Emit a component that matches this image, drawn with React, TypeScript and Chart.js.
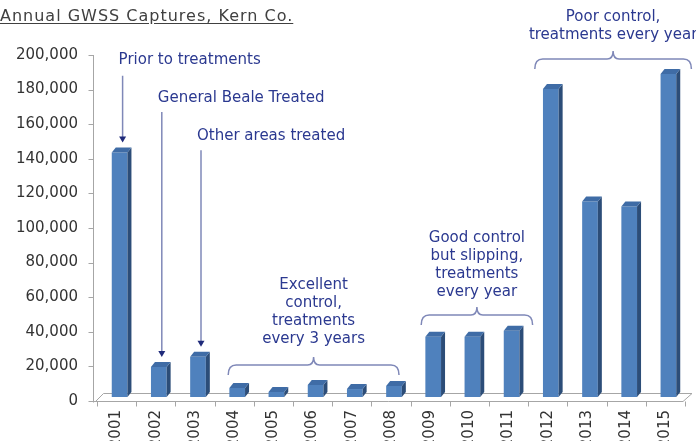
import React, { useEffect, useRef } from "react";
import { Chart, registerables } from "chart.js";

Chart.register(...registerables);

// ---- data ----
const categories = ["2001", "2002", "2003", "2004", "2005", "2006", "2007", "2008", "2009", "2010", "2011", "2012", "2013", "2014", "2015"];
const captures = [141400, 17400, 23200, 5200, 2900, 7000, 4600, 6400, 34800, 34800, 38300, 178000, 113000, 110100, 186700];
const yTickValues = [0, 20000, 40000, 60000, 80000, 100000, 120000, 140000, 160000, 180000, 200000];
const titleText = "Annual GWSS Captures, Kern Co.";

const arrowLabels = ["Prior to treatments", "General Beale Treated", "Other areas treated"];
const arrowIndices = [0, 1, 2];
const arrowTextValues = [197000, 175000, 153000];
const arrowStartValues = [188000, 167000, 145000];

const groupLines = [
  ["Excellent", "control,", "treatments", "every 3 years"],
  ["Good control", "but slipping,", "treatments", "every year"],
  ["Poor control,", "treatments every year"],
];
const groupFrom = [3, 8, 11];
const groupTo = [7, 10, 14];
const groupLeftPad = [-6, -9, -13];
const groupRightPad = [8, 24, 26];
const groupBraceValues = [20800, 49700, 197700];
const groupTextValues = [67000, 94200, 222000];

// ---- styles ----
const FONT = '"DejaVu Sans", "Liberation Sans", Arial, sans-serif';
const NOTE_COLOR = "#2B3990";
const NOTE_LINE = "#7F88B8";
const AXIS_COLOR = "#A6A6A6";
const FRONT = "#4F81BD";
const SIDE = "#2C4D78";
const TOP = "#3F6CA6";
const SHIFT_X = 3;
const SHIFT_Y = -4;
const DEPTH_X = 4;
const DEPTH_Y = -5;

const axesPlugin = {
  id: "axes3d",
  beforeDatasetsDraw(chart: any) {
    const { ctx, chartArea, scales } = chart;
    const x = scales.x;
    const y = scales.y;
    const left = chartArea.left;
    const right = chartArea.right;
    const bottom = chartArea.bottom;
    ctx.save();
    ctx.strokeStyle = AXIS_COLOR;
    ctx.lineWidth = 1;
    const ax = Math.round(left - 4) + 0.5;
    const by = Math.round(bottom) + 0.5;
    // vertical axis
    ctx.beginPath();
    ctx.moveTo(ax, chartArea.top);
    ctx.lineTo(ax, by + 1);
    ctx.stroke();
    // y tick marks
    yTickValues.forEach((v) => {
      const py = Math.round(y.getPixelForValue(v)) + 0.5;
      ctx.beginPath();
      ctx.moveTo(ax - 5, py);
      ctx.lineTo(ax, py);
      ctx.stroke();
    });
    // floor
    const fr = right - 2;
    ctx.beginPath();
    ctx.moveTo(ax, by);
    ctx.lineTo(fr, by);
    ctx.lineTo(fr + 9, by - 8);
    ctx.lineTo(ax + 10, by - 8);
    ctx.lineTo(ax + 2, by);
    ctx.stroke();
    // x tick marks
    const n = categories.length;
    const cw = (right - left) / n;
    for (let k = 0; k <= n; k++) {
      const px = Math.round(left + k * cw) + 0.5;
      ctx.beginPath();
      ctx.moveTo(px, by);
      ctx.lineTo(px, by + 5);
      ctx.stroke();
    }
    ctx.restore();
    // shift bars into 3D depth
    ctx.save();
    ctx.translate(SHIFT_X, SHIFT_Y);
  },
  afterDatasetsDraw(chart: any) {
    const { ctx } = chart;
    const meta = chart.getDatasetMeta(0);
    meta.data.forEach((el: any) => {
      const p = el.getProps(["x", "y", "width", "base"], true);
      const l = p.x - p.width / 2;
      const r = p.x + p.width / 2;
      // side face
      ctx.fillStyle = SIDE;
      ctx.beginPath();
      ctx.moveTo(r, p.y);
      ctx.lineTo(r + DEPTH_X, p.y + DEPTH_Y);
      ctx.lineTo(r + DEPTH_X, p.base + DEPTH_Y);
      ctx.lineTo(r, p.base);
      ctx.closePath();
      ctx.fill();
      // top face
      ctx.fillStyle = TOP;
      ctx.beginPath();
      ctx.moveTo(l, p.y);
      ctx.lineTo(l + DEPTH_X, p.y + DEPTH_Y);
      ctx.lineTo(r + DEPTH_X, p.y + DEPTH_Y);
      ctx.lineTo(r, p.y);
      ctx.closePath();
      ctx.fill();
    });
    ctx.restore();
  },
};

const notesPlugin = {
  id: "notes",
  afterDraw(chart: any) {
    const { ctx, scales } = chart;
    const x = scales.x;
    const y = scales.y;
    ctx.save();
    ctx.font = `15px ${FONT}`;
    ctx.textBaseline = "middle";
    // arrow notes
    arrowLabels.forEach((label, i) => {
      const idx = arrowIndices[i];
      const ax = x.getPixelForValue(idx) + 6;
      const ty = y.getPixelForValue(arrowTextValues[i]);
      const sy = y.getPixelForValue(arrowStartValues[i]);
      const tip = y.getPixelForValue(captures[idx]) - 14;
      ctx.fillStyle = NOTE_COLOR;
      ctx.textAlign = "left";
      ctx.fillText(label, ax - 4, ty);
      ctx.strokeStyle = NOTE_LINE;
      ctx.lineWidth = 1.5;
      ctx.beginPath();
      ctx.moveTo(ax, sy);
      ctx.lineTo(ax, tip - 4);
      ctx.stroke();
      ctx.fillStyle = "#1F2A7A";
      ctx.beginPath();
      ctx.moveTo(ax - 3.5, tip - 6);
      ctx.lineTo(ax + 3.5, tip - 6);
      ctx.lineTo(ax, tip);
      ctx.closePath();
      ctx.fill();
    });
    // brace groups
    groupLines.forEach((lines, g) => {
      const left = x.getPixelForValue(groupFrom[g]) + groupLeftPad[g];
      const right = x.getPixelForValue(groupTo[g]) + groupRightPad[g];
      const cx = (left + right) / 2;
      const yb = y.getPixelForValue(groupBraceValues[g]);
      ctx.strokeStyle = NOTE_LINE;
      ctx.lineWidth = 1.5;
      ctx.beginPath();
      ctx.moveTo(left, yb + 10);
      ctx.quadraticCurveTo(left, yb, left + 8, yb);
      ctx.lineTo(cx - 6, yb);
      ctx.quadraticCurveTo(cx, yb, cx, yb - 8);
      ctx.quadraticCurveTo(cx, yb, cx + 6, yb);
      ctx.lineTo(right - 8, yb);
      ctx.quadraticCurveTo(right, yb, right, yb + 10);
      ctx.stroke();
      const ty = y.getPixelForValue(groupTextValues[g]);
      ctx.fillStyle = NOTE_COLOR;
      ctx.textAlign = "center";
      lines.forEach((line, li) => {
        ctx.fillText(line, cx, ty + li * 18);
      });
    });
    ctx.restore();
  },
};

export default function App() {
  const canvasRef = useRef<HTMLCanvasElement | null>(null);

  useEffect(() => {
    const canvas = canvasRef.current;
    if (!canvas) return;
    const chart = new Chart(canvas, {
      type: "bar",
      data: {
        labels: categories,
        datasets: [
          {
            data: captures,
            backgroundColor: FRONT,
            borderWidth: 0,
            categoryPercentage: 1,
            barPercentage: 0.4,
          },
        ],
      },
      options: {
        animation: false,
        responsive: false,
        maintainAspectRatio: false,
        devicePixelRatio: 1,
        layout: { padding: { top: 55, right: 11, left: 0, bottom: 0 } },
        plugins: {
          legend: { display: false },
          tooltip: { enabled: false },
          title: { display: false },
        },
        scales: {
          x: {
            grid: { display: false, drawTicks: false },
            border: { display: false },
            ticks: {
              minRotation: 90,
              maxRotation: 90,
              autoSkip: false,
              padding: 9,
              color: "#333333",
              font: { family: FONT, size: 15 },
            },
            afterFit: (s: any) => {
              s.height = 40;
            },
          },
          y: {
            min: 0,
            max: 200000,
            afterBuildTicks: (s: any) => {
              s.ticks = yTickValues.map((v) => ({ value: v }));
            },
            grid: { display: false, drawTicks: false },
            border: { display: false },
            ticks: {
              padding: 19,
              color: "#333333",
              font: { family: FONT, size: 15 },
              callback: (v: any) => Number(v).toLocaleString("en-US"),
            },
            afterFit: (s: any) => {
              s.width = 97;
            },
          },
        },
      },
      plugins: [axesPlugin, notesPlugin],
    });
    return () => chart.destroy();
  }, []);

  return (
    <div style={{ position: "fixed", left: 0, top: 0, width: 696, height: 441, background: "#fff", overflow: "hidden" }}>
      <canvas ref={canvasRef} width={696} height={441} style={{ position: "absolute", left: 0, top: 0 }} />
      <div
        style={{
          position: "absolute",
          left: 0,
          top: 6,
          font: `16px ${FONT}`,
          lineHeight: "19px",
          letterSpacing: "1px",
          color: "#404040",
          textDecoration: "underline",
          textUnderlineOffset: "2px",
          whiteSpace: "nowrap",
        }}
      >
        {titleText}
      </div>
    </div>
  );
}
